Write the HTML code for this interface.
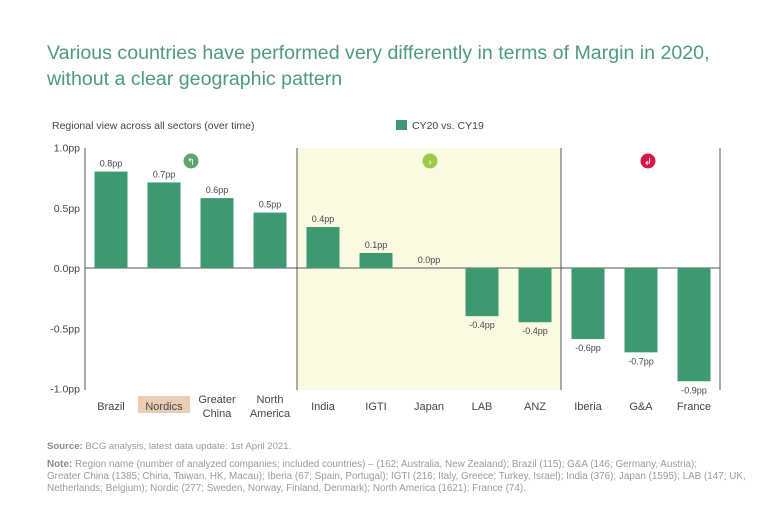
<!DOCTYPE html>
<html><head><meta charset="utf-8"><style>
body{margin:0;background:#fff;width:768px;height:518px;overflow:hidden;font-family:"Liberation Sans",sans-serif}
.t{position:absolute;left:47px;top:40px;font-size:19.6px;line-height:26px;color:#4f9a7d;margin:0;font-weight:normal}
.fn{position:absolute;left:47px;font-size:9.6px;color:#9a9a9a;line-height:12px;white-space:nowrap}
.fn b{color:#8a8a8a}
</style></head><body>
<h1 class="t">Various countries have performed very differently in terms of Margin in 2020,<br>without a clear geographic pattern</h1>
<svg id="c" width="768" height="518" style="position:absolute;left:0;top:0"></svg>
<div class="fn" style="top:441px"><b>Source:</b> BCG analysis, latest data update: 1st April 2021.</div>
<div class="fn" style="top:459px;font-size:9.9px"><b>Note:</b> Region name (number of analyzed companies; included countries) – (162; Australia, New Zealand); Brazil (115); G&amp;A (146; Germany, Austria);<br>Greater China (1385; China, Taiwan, HK, Macau); Iberia (67; Spain, Portugal); IGTI (216; Italy, Greece; Turkey, Israel); India (376); Japan (1595); LAB (147; UK,<br>Netherlands; Belgium); Nordic (277; Sweden, Norway, Finland, Denmark); North America (1621); France (74).</div>
<script>
const categories=["Brazil","Nordics","Greater|China","North|America","India","IGTI","Japan","LAB","ANZ","Iberia","G&A","France"];
const values=[0.8,0.71,0.58,0.46,0.34,0.125,0,-0.4,-0.45,-0.59,-0.7,-0.94];
const labels=["0.8pp","0.7pp","0.6pp","0.5pp","0.4pp","0.1pp","0.0pp","-0.4pp","-0.4pp","-0.6pp","-0.7pp","-0.9pp"];
const ticks=[1,0.5,0,-0.5,-1];
const tickLabels=["1.0pp","0.5pp","0.0pp","-0.5pp","-1.0pp"];
const NS="http://www.w3.org/2000/svg",s=document.getElementById('c');
const x0=85,x1=720,step=53,bw=33;
const y=v=>268-v*120.5;
const xc=i=>111+i*step;
function el(t,a,txt){const e=document.createElementNS(NS,t);for(const k in a)e.setAttribute(k,a[k]);if(txt!=null)e.textContent=txt;s.appendChild(e);return e;}
let e;
e=el('rect',{x:297,y:148,width:264,height:242,fill:'#fafae2'});


e=el('text',{x:52,y:129,'font-size':10.5,fill:'#444'},'Regional view across all sectors (over time)');


e=el('rect',{x:396,y:120,width:11,height:10,fill:'#3d9a70'});


e=el('text',{x:412,y:129,'font-size':10.5,fill:'#444'},'CY20 vs. CY19');


ticks.forEach((t,i)=>{e=el('text',{x:80,y:y(t)+4,'font-size':10.5,fill:'#444','text-anchor':'end'},tickLabels[i]);

});
[x0,297,561,x1].forEach(xx=>{e=el('line',{x1:xx,x2:xx,y1:148,y2:390,stroke:'#555','stroke-width':1});

});
e=el('line',{x1:x0,x2:x1,y1:y(0),y2:y(0),stroke:'#555','stroke-width':1});


values.forEach((v,i)=>{
 const top=Math.min(y(v),y(0)),h=Math.abs(y(v)-y(0));
 e=el('rect',{x:xc(i)-bw/2,y:top,width:bw,height:Math.max(h,0),fill:'#3d9a70'});
 
 
 const ly=v>=0?y(v)-5:y(v)+12;
 e=el('text',{x:xc(i),y:ly,'font-size':9,fill:'#444','text-anchor':'middle'},labels[i]);
 
 
 const parts=categories[i].split('|');
 if(i==1){e=el('rect',{x:xc(i)-26,y:396,width:52,height:17,fill:'#ebcdb5'});
 
 }
 parts.forEach((p,j)=>{const yy=parts.length==1?410:403+j*14;
 e=el('text',{x:xc(i),y:yy,'font-size':11,fill:'#444','text-anchor':'middle'},p);
 
 });
});
[[191,'#5aa66b','↰'],[430,'#9cc94a','›'],[648,'#d3174a','↲']].forEach(c=>{
 e=el('circle',{cx:c[0],cy:161,r:7.5,fill:c[1]});
 
 
 e=el('text',{x:c[0],y:165,'font-size':10,fill:'#fff','text-anchor':'middle'},c[2]);
 
 
});
</script>
</body></html>
